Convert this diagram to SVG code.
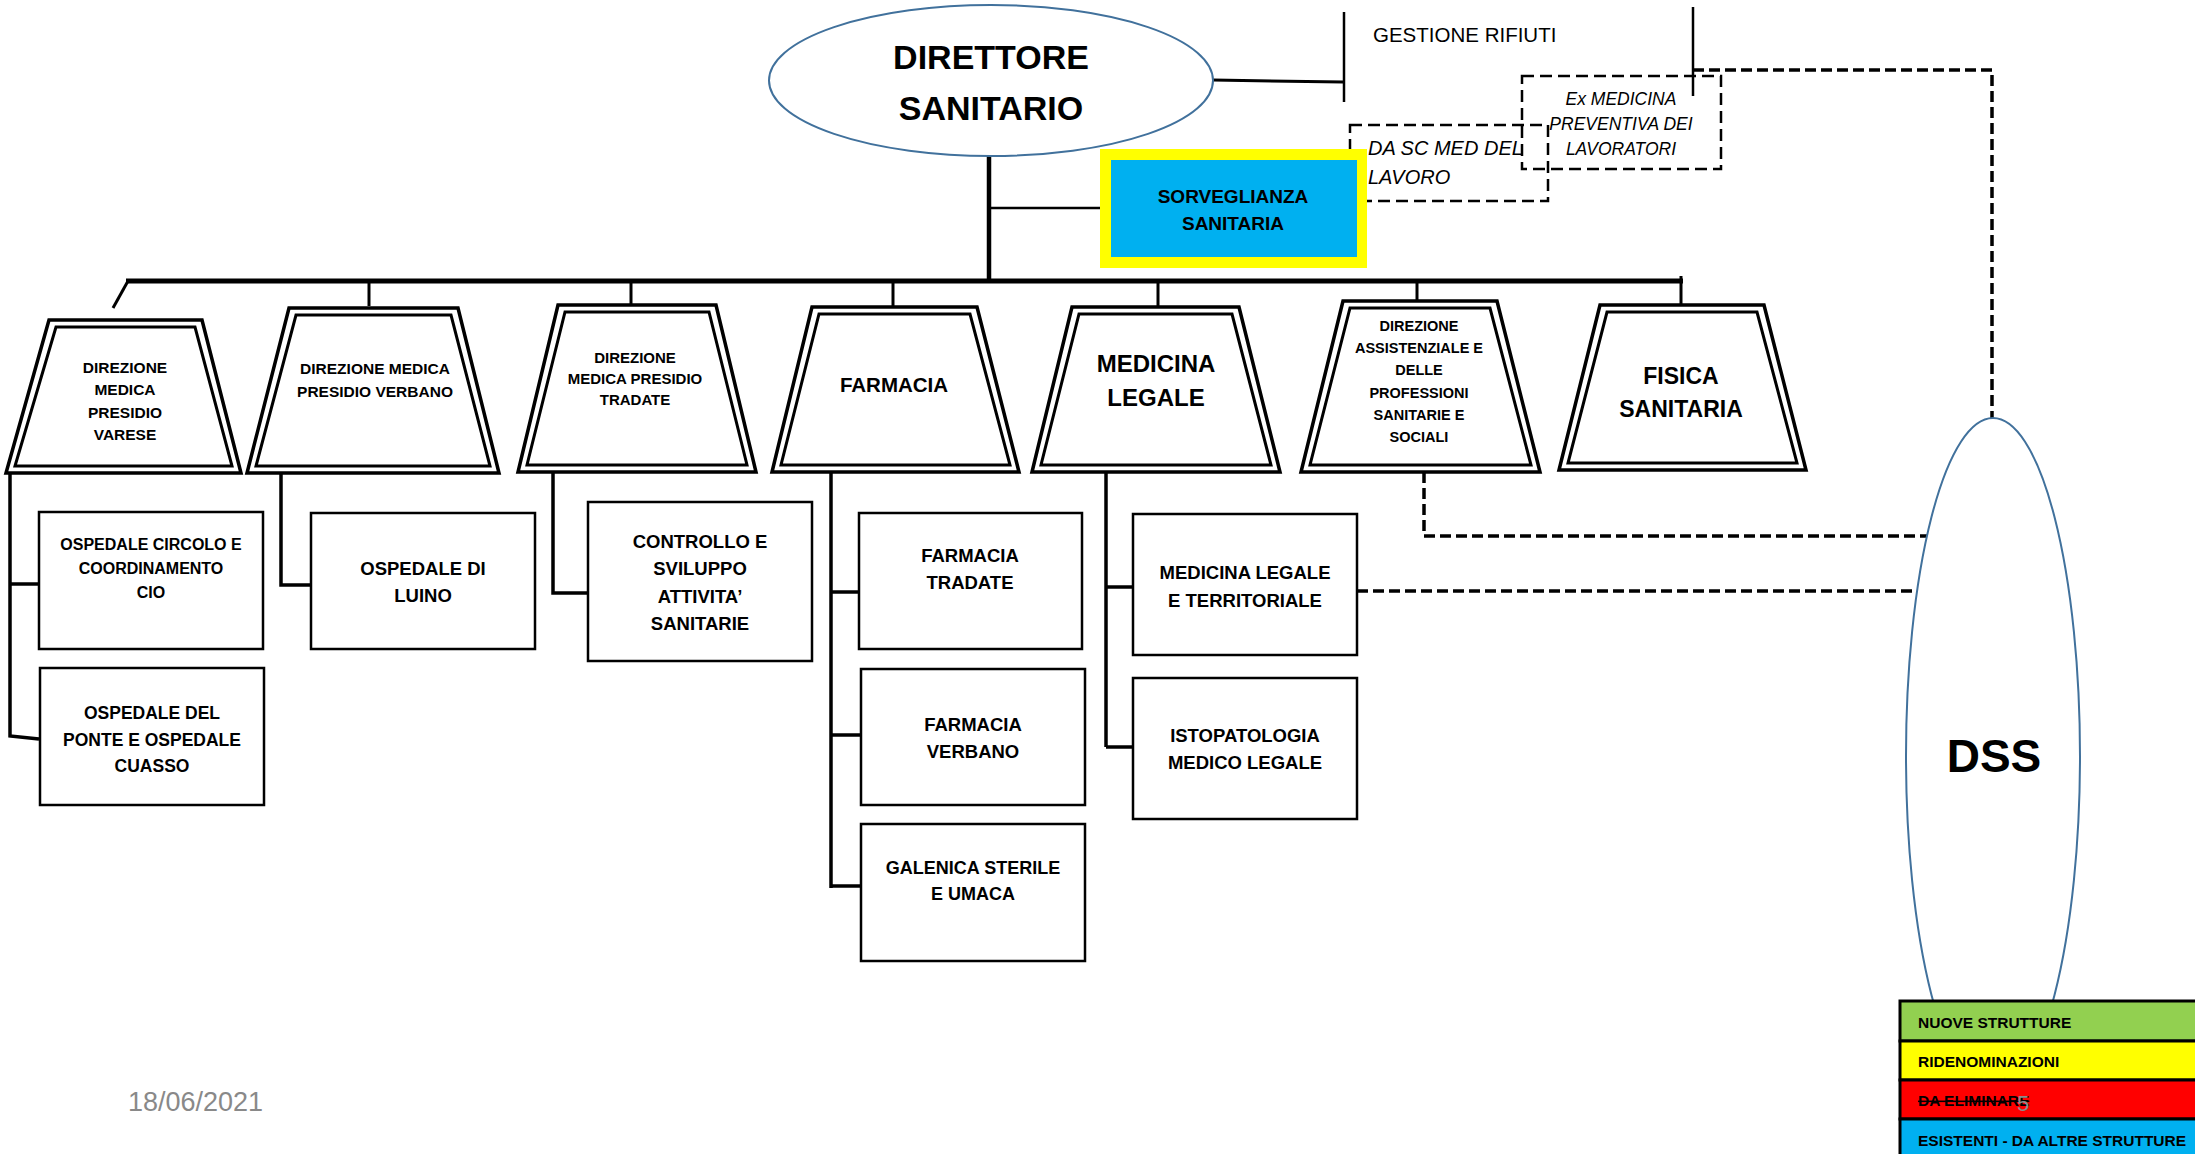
<svg xmlns="http://www.w3.org/2000/svg" width="2195" height="1154" viewBox="0 0 2195 1154">
<style>
text{font-family:"Liberation Sans",Arial,sans-serif;fill:#000}
.b{font-weight:bold}
.c{text-anchor:middle}
.it{font-style:italic}
.box{fill:#fff;stroke:#000;stroke-width:2.5}
.to{fill:#fff;stroke:#000;stroke-width:3.5;stroke-linejoin:miter}
.ti{fill:none;stroke:#000;stroke-width:3}
.ln{fill:none;stroke:#000;stroke-width:3}
.dash{fill:none;stroke:#000;stroke-width:3.5;stroke-dasharray:11 5}
.dbox{fill:none;stroke:#000;stroke-width:2.5;stroke-dasharray:12 6}
.ell{fill:#fff;stroke:#41719C;stroke-width:2}
</style>
<rect width="2195" height="1154" fill="#fff"/>

<g id="connectors">
  <line class="ln" x1="1213" y1="80" x2="1343" y2="82" stroke-width="2.5"/>
  <line class="ln" x1="989" y1="156" x2="989" y2="281" style="stroke-width:4.5"/>
  <line class="ln" x1="989" y1="208" x2="1105" y2="208" style="stroke-width:2.5"/>
  <line class="ln" x1="126" y1="281" x2="1683" y2="281" style="stroke-width:5"/>
  <line class="ln" x1="128" y1="281" x2="113" y2="308"/>
  <line class="ln" x1="369" y1="281" x2="369" y2="306"/>
  <line class="ln" x1="631" y1="281" x2="631" y2="308"/>
  <line class="ln" x1="893" y1="281" x2="893" y2="310"/>
  <line class="ln" x1="1158" y1="281" x2="1158" y2="307"/>
  <line class="ln" x1="1417" y1="281" x2="1417" y2="303"/>
  <line class="ln" x1="1681" y1="276" x2="1681" y2="304"/>
  <polyline class="ln" points="10,473 10,736 39,739" style="stroke-width:3.5"/>
  <line class="ln" x1="10" y1="584" x2="39" y2="584" style="stroke-width:3.5"/>
  <polyline class="ln" points="281,469 281,585 311,585" style="stroke-width:3.5"/>
  <polyline class="ln" points="553,472 553,593 588,593" style="stroke-width:3.5"/>
  <line class="ln" x1="831" y1="472" x2="831" y2="888" style="stroke-width:3.5"/>
  <line class="ln" x1="831" y1="592" x2="859" y2="592" style="stroke-width:3.5"/>
  <line class="ln" x1="831" y1="735" x2="861" y2="735" style="stroke-width:3.5"/>
  <line class="ln" x1="831" y1="886" x2="861" y2="886" style="stroke-width:3.5"/>
  <line class="ln" x1="1106" y1="472" x2="1106" y2="747" style="stroke-width:3.5"/>
  <line class="ln" x1="1106" y1="587" x2="1133" y2="587" style="stroke-width:3.5"/>
  <line class="ln" x1="1106" y1="747" x2="1133" y2="747" style="stroke-width:3.5"/>
  <line class="dash" x1="1357" y1="591" x2="1918" y2="591"/>
  <polyline class="dash" points="1424,472 1424,536 1928,536"/>
  <polyline class="dash" points="1693,70 1992,70 1992,418"/>
</g>

<g id="gestione-rifiuti">
  <line class="ln" x1="1344" y1="12" x2="1344" y2="102" style="stroke-width:2.5"/>
  <line class="ln" x1="1693" y1="7" x2="1693" y2="96" style="stroke-width:2.5"/>
  <text x="1373" y="42" font-size="20.5">GESTIONE RIFIUTI</text>
</g>

<g id="ex-medicina">
  <rect class="dbox" x="1522" y="76" width="199" height="93"/>
  <text class="it c" font-size="17.5"><tspan x="1621" y="105">Ex MEDICINA</tspan><tspan x="1621" y="130">PREVENTIVA DEI</tspan><tspan x="1621" y="155">LAVORATORI</tspan></text>
</g>

<g id="da-sc-med">
  <rect class="dbox" x="1350" y="125" width="198" height="76"/>
  <text class="it" font-size="20"><tspan x="1368" y="155">DA SC MED DEL</tspan><tspan x="1368" y="184">LAVORO</tspan></text>
</g>

<g id="direttore-sanitario">
  <ellipse class="ell" cx="991" cy="80.5" rx="222" ry="75.5"/>
  <text class="b c" font-size="34"><tspan x="991" y="69">DIRETTORE</tspan><tspan x="991" y="120">SANITARIO</tspan></text>
</g>

<g id="sorveglianza-sanitaria">
  <rect x="1100" y="149" width="267" height="119" fill="#FFFF00"/>
  <rect x="1111" y="160" width="246" height="97" fill="#00B0F0"/>
  <text class="b c" font-size="19"><tspan x="1233" y="203">SORVEGLIANZA</tspan><tspan x="1233" y="230">SANITARIA</tspan></text>
</g>

<g id="dir-medica-varese">
  <polygon class="to" points="49,320 202,320 241,473 6,473"/>
  <polygon class="ti" points="56,327 195,327 232,466 15,466"/>
  <text class="b c" font-size="15.5"><tspan x="125" y="373">DIREZIONE</tspan><tspan x="125" y="395">MEDICA</tspan><tspan x="125" y="418">PRESIDIO</tspan><tspan x="125" y="440">VARESE</tspan></text>
</g>

<g id="dir-medica-verbano">
  <polygon class="to" points="289,308 458,308 499,473 247,473"/>
  <polygon class="ti" points="296,315 451,315 490,466 256,466"/>
  <text class="b c" font-size="15.5"><tspan x="375" y="374">DIREZIONE MEDICA</tspan><tspan x="375" y="397">PRESIDIO VERBANO</tspan></text>
</g>

<g id="dir-medica-tradate">
  <polygon class="to" points="558,305 716,305 756,472 518,472"/>
  <polygon class="ti" points="565,312 709,312 747,465 527,465"/>
  <text class="b c" font-size="15"><tspan x="635" y="363">DIREZIONE</tspan><tspan x="635" y="384">MEDICA PRESIDIO</tspan><tspan x="635" y="405">TRADATE</tspan></text>
</g>

<g id="farmacia">
  <polygon class="to" points="812,307 977,307 1019,472 772,472"/>
  <polygon class="ti" points="819,314 970,314 1010,465 781,465"/>
  <text class="b c" x="894" y="392" font-size="20.5">FARMACIA</text>
</g>

<g id="medicina-legale">
  <polygon class="to" points="1072,307 1239,307 1280,472 1032,472"/>
  <polygon class="ti" points="1079,314 1232,314 1271,465 1041,465"/>
  <text class="b c" font-size="24"><tspan x="1156" y="372">MEDICINA</tspan><tspan x="1156" y="406">LEGALE</tspan></text>
</g>

<g id="dir-assistenziale">
  <polygon class="to" points="1343,301 1497,301 1540,472 1301,472"/>
  <polygon class="ti" points="1350,308 1490,308 1531,465 1310,465"/>
  <text class="b c" font-size="14.5"><tspan x="1419" y="331">DIREZIONE</tspan><tspan x="1419" y="353">ASSISTENZIALE E</tspan><tspan x="1419" y="375">DELLE</tspan><tspan x="1419" y="398">PROFESSIONI</tspan><tspan x="1419" y="420">SANITARIE E</tspan><tspan x="1419" y="442">SOCIALI</tspan></text>
</g>

<g id="fisica-sanitaria">
  <polygon class="to" points="1600,305 1764,305 1806,470 1559,470"/>
  <polygon class="ti" points="1607,312 1757,312 1797,463 1568,463"/>
  <text class="b c" font-size="23"><tspan x="1681" y="384">FISICA</tspan><tspan x="1681" y="417">SANITARIA</tspan></text>
</g>

<g id="ospedale-circolo">
  <rect class="box" x="39" y="512" width="224" height="137"/>
  <text class="b c" font-size="16"><tspan x="151" y="550">OSPEDALE CIRCOLO E</tspan><tspan x="151" y="574">COORDINAMENTO</tspan><tspan x="151" y="598">CIO</tspan></text>
</g>

<g id="ospedale-ponte">
  <rect class="box" x="40" y="668" width="224" height="137"/>
  <text class="b c" font-size="17.5"><tspan x="152" y="719">OSPEDALE DEL</tspan><tspan x="152" y="746">PONTE E OSPEDALE</tspan><tspan x="152" y="772">CUASSO</tspan></text>
</g>

<g id="ospedale-luino">
  <rect class="box" x="311" y="513" width="224" height="136"/>
  <text class="b c" font-size="18.5"><tspan x="423" y="575">OSPEDALE DI</tspan><tspan x="423" y="602">LUINO</tspan></text>
</g>

<g id="controllo-sviluppo">
  <rect class="box" x="588" y="502" width="224" height="159"/>
  <text class="b c" font-size="18.5"><tspan x="700" y="548">CONTROLLO E</tspan><tspan x="700" y="575">SVILUPPO</tspan><tspan x="700" y="603">ATTIVITA’</tspan><tspan x="700" y="630">SANITARIE</tspan></text>
</g>

<g id="farmacia-tradate">
  <rect class="box" x="859" y="513" width="223" height="136"/>
  <text class="b c" font-size="18.5"><tspan x="970" y="562">FARMACIA</tspan><tspan x="970" y="589">TRADATE</tspan></text>
</g>

<g id="farmacia-verbano">
  <rect class="box" x="861" y="669" width="224" height="136"/>
  <text class="b c" font-size="18.5"><tspan x="973" y="731">FARMACIA</tspan><tspan x="973" y="758">VERBANO</tspan></text>
</g>

<g id="galenica-sterile">
  <rect class="box" x="861" y="824" width="224" height="137"/>
  <text class="b c" font-size="18"><tspan x="973" y="874">GALENICA STERILE</tspan><tspan x="973" y="900">E UMACA</tspan></text>
</g>

<g id="medicina-legale-territoriale">
  <rect class="box" x="1133" y="514" width="224" height="141"/>
  <text class="b c" font-size="18.5"><tspan x="1245" y="579">MEDICINA LEGALE</tspan><tspan x="1245" y="607">E TERRITORIALE</tspan></text>
</g>

<g id="istopatologia">
  <rect class="box" x="1133" y="678" width="224" height="141"/>
  <text class="b c" font-size="18.5"><tspan x="1245" y="742">ISTOPATOLOGIA</tspan><tspan x="1245" y="769">MEDICO LEGALE</tspan></text>
</g>

<g id="dss">
  <ellipse class="ell" cx="1993" cy="756" rx="87" ry="338" fill="none"/>
  <text class="b c" x="1994" y="772" font-size="46">DSS</text>
</g>

<g id="legend">
  <rect x="1900" y="1001" width="300" height="40" fill="#92D050" stroke="#000" stroke-width="3"/>
  <rect x="1900" y="1041" width="300" height="39" fill="#FFFF00" stroke="#000" stroke-width="3"/>
  <rect x="1900" y="1080" width="300" height="39" fill="#FF0000" stroke="#000" stroke-width="3"/>
  <rect x="1900" y="1119" width="300" height="40" fill="#00B0F0" stroke="#000" stroke-width="3"/>
  <text class="b" x="1918" y="1028" font-size="15.5">NUOVE STRUTTURE</text>
  <text class="b" x="1918" y="1067" font-size="15.5">RIDENOMINAZIONI</text>
  <text class="b" x="1918" y="1106" font-size="15.5" text-decoration="line-through" style="text-decoration:line-through">DA ELIMINARE</text>
  <text class="b" x="1918" y="1146" font-size="15.5">ESISTENTI - DA ALTRE STRUTTURE</text>
</g>

<text x="2017" y="1111" font-size="22" style="fill:#8c8c8c">5</text>
<text x="128" y="1111" font-size="27" style="fill:#898989">18/06/2021</text>
</svg>
